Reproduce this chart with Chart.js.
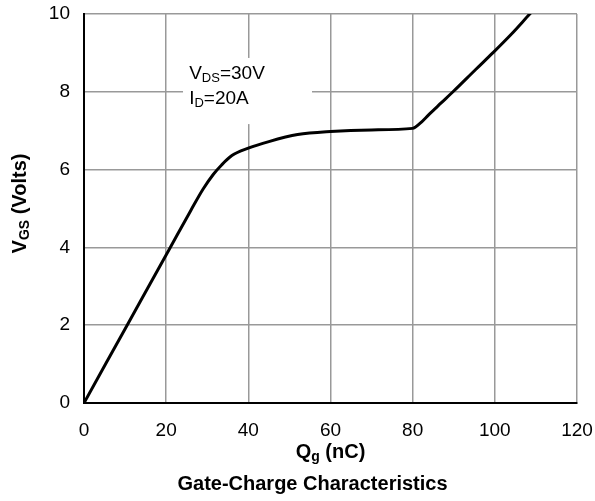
<!DOCTYPE html>
<html><head><meta charset="utf-8">
<script src="https://cdn.jsdelivr.net/npm/chart.js@4/dist/chart.umd.min.js"></script>
<style>html,body{margin:0;padding:0;background:#fff}#c{display:block}</style>
</head><body>
<canvas id="c" width="595" height="501" style="width:595px;height:501px"></canvas>
<script>
// ---- data ----
const qg  = [0, 10.5, 21, 26, 29, 31.5, 33.5, 36, 40, 45, 52, 60, 70, 80, 81.7, 84, 87, 90, 95.4, 99.5, 104, 108.5, 110];
const vgs = [0, 2, 4, 4.95, 5.5, 5.88, 6.12, 6.36, 6.55, 6.72, 6.9, 6.98, 7.02, 7.06, 7.18, 7.42, 7.72, 8.02, 8.58, 9.0, 9.48, 10, 10.17];
const xTicks = [0, 20, 40, 60, 80, 100, 120];
const yTicks = [0, 2, 4, 6, 8, 10];
const noteLines = [[['V',0],['DS',1],['=30V',0]], [['I',0],['D',1],['=20A',0]]];
const yTitle = [['V',0],['GS',1],[' (Volts)',0]];
const xTitle = [['Q',0],['g',1],[' (nC)',0]];
const chartTitle = 'Gate-Charge Characteristics';

const FONT = '"Liberation Sans", Arial, sans-serif';

function drawParts(ctx, parts, x, y, size, bold, align) {
  const w = bold ? 'bold ' : '';
  const subSize = Math.round(size * 0.68);
  let total = 0;
  parts.forEach(([t, s]) => { ctx.font = w + (s ? subSize : size) + 'px ' + FONT; total += ctx.measureText(t).width; });
  let cx = align === 'center' ? x - total / 2 : x;
  ctx.textAlign = 'left';
  ctx.textBaseline = 'alphabetic';
  parts.forEach(([t, s]) => {
    ctx.font = w + (s ? subSize : size) + 'px ' + FONT;
    ctx.fillText(t, cx, s ? y + size * 0.17 : y);
    cx += ctx.measureText(t).width;
  });
}

const decor = {
  id: 'decor',
  beforeDatasetsDraw(chart) {
    const {ctx, scales: {x, y}} = chart;
    ctx.save();
    const l = x.getPixelForValue(24.1), r = x.getPixelForValue(55.5);
    const t = y.getPixelForValue(8.87), b = y.getPixelForValue(7.17);
    ctx.fillStyle = '#fff';
    ctx.fillRect(l, t, r - l, b - t);
    ctx.fillStyle = '#000';
    drawParts(ctx, noteLines[0], x.getPixelForValue(25.6), y.getPixelForValue(8.33), 19, false, 'left');
    drawParts(ctx, noteLines[1], x.getPixelForValue(25.6), y.getPixelForValue(7.68), 19, false, 'left');
    ctx.restore();
  },
  afterDraw(chart) {
    const {ctx, chartArea: ca} = chart;
    ctx.save();
    ctx.fillStyle = '#000';
    ctx.translate(ca.left - 58, (ca.top + ca.bottom) / 2 - 5);
    ctx.rotate(-Math.PI / 2);
    drawParts(ctx, yTitle, 0, 0, 20, true, 'center');
    ctx.restore();
    ctx.save();
    ctx.fillStyle = '#000';
    drawParts(ctx, xTitle, (ca.left + ca.right) / 2, ca.bottom + 55, 20, true, 'center');
    ctx.font = 'bold 20px ' + FONT;
    ctx.textAlign = 'center';
    ctx.textBaseline = 'alphabetic';
    ctx.fillText(chartTitle, (ca.left + ca.right) / 2 - 18, ca.bottom + 87);
    ctx.restore();
  }
};

new Chart(document.getElementById('c'), {
  type: 'scatter',
  data: {
    datasets: [{
      data: qg.map((q, i) => ({x: q, y: vgs[i]})),
      showLine: true,
      borderColor: '#000',
      borderWidth: 3,
      pointRadius: 0,
      cubicInterpolationMode: 'monotone',
      fill: false
    }]
  },
  options: {
    responsive: false,
    animation: false,
    devicePixelRatio: 1,
    layout: {padding: {left: 50, right: 18, top: 14, bottom: 60}},
    plugins: {legend: {display: false}, tooltip: {enabled: false}},
    scales: {
      x: {
        type: 'linear', min: 0, max: 120,
        afterBuildTicks: s => { s.ticks = xTicks.map(v => ({value: v})); },
        afterFit: s => { s.height = 38; s.paddingRight = 0; s.paddingLeft = 0; },
        ticks: {padding: 16, color: '#000', font: {family: FONT, size: 19}},
        grid: {color: '#999', lineWidth: 1.5, drawTicks: false},
        border: {color: '#000', width: 2}
      },
      y: {
        type: 'linear', min: 0, max: 10,
        afterBuildTicks: s => { s.ticks = yTicks.map(v => ({value: v})); },
        afterFit: s => { s.width = 34; s.paddingTop = 0; s.paddingBottom = 0; },
        ticks: {padding: 14, color: '#000', font: {family: FONT, size: 19}},
        grid: {color: '#999', lineWidth: 1.5, drawTicks: false},
        border: {color: '#000', width: 2}
      }
    }
  },
  plugins: [decor]
});
</script>
</body></html>
